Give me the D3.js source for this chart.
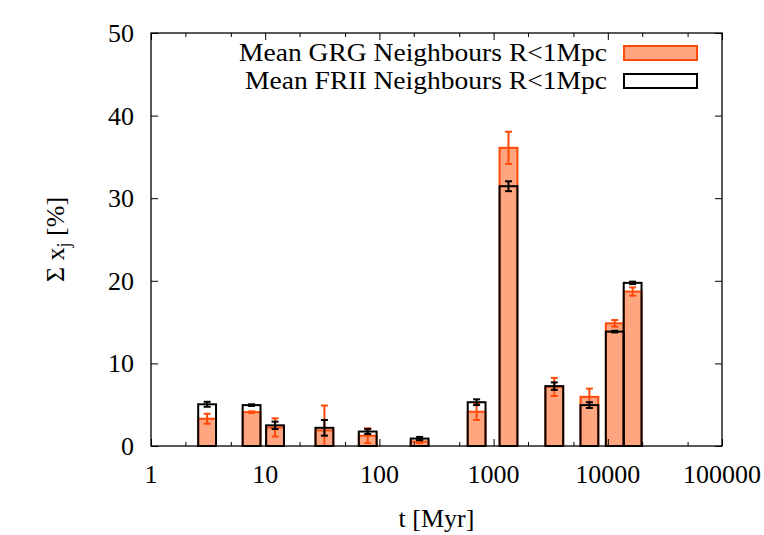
<!DOCTYPE html>
<html>
<head>
<meta charset="utf-8">
<script src="https://cdn.jsdelivr.net/npm/d3@7"></script>
</head>
<body style="margin:0">
<svg id="s" width="764" height="535"></svg>
<script>
// ages of the population bins [Myr]
const ages = [3.1, 7.6, 12.2, 33, 79, 225, 710, 1350, 3400, 6900, 11500, 16500];
// GRG neighbours: mean fraction and error [%]
const grgValues = [3.3, 4.1, 2.25, 1.9, 1.25, 0.55, 4.15, 36.1, 7.15, 5.95, 14.85, 18.7];
const grgErrors = [0.6, 0.1, 1.1, 3.0, 0.9, 0.2, 1.0, 1.95, 1.1, 1.0, 0.4, 0.5];
// FRII neighbours: mean fraction and error [%]
const friiValues = [5.05, 4.95, 2.5, 2.2, 1.75, 0.9, 5.3, 31.45, 7.25, 4.95, 13.85, 19.75];
const friiErrors = [0.3, 0.1, 0.45, 0.95, 0.3, 0.2, 0.35, 0.6, 0.45, 0.35, 0.1, 0.15];

const xMajorTicks = [1, 10, 100, 1000, 10000, 100000];
const xMinorTicks = [2, 5, 20, 50, 200, 500, 2000, 5000, 20000, 50000];
const yTicks = [0, 10, 20, 30, 40, 50];
const legendLabels = ['Mean GRG Neighbours R<1Mpc', 'Mean FRII Neighbours R<1Mpc'];

const margin = { left: 151, right: 42, top: 33, bottom: 89 };
const width = 764, height = 535;
const serif = 'Liberation Serif';
const fontSize = 26;
const svg = d3.select('#s');

const x = d3.scaleLog().domain([1, 100000]).range([margin.left, width - margin.right]);
const y = d3.scaleLinear().domain([0, 50]).range([height - margin.bottom, margin.top]);

// half box width in dex
const halfWidth = Math.pow(10, 0.078);
const grgFill = '#ffa57f';
const grgStroke = '#ff4a0a';

const data = ages.map((a, i) => ({
  age: a,
  grg: grgValues[i], grgErr: grgErrors[i],
  frii: friiValues[i], friiErr: friiErrors[i],
}));

function drawErrors(key, errKey, color) {
  const cap = 3.5;
  const e = svg.append('g').attr('stroke', color).attr('stroke-width', 2).attr('fill', 'none');
  data.forEach(d => {
    const cx = x(d.age);
    const lo = y(Math.max(0, d[key] - d[errKey]));
    const hi = y(d[key] + d[errKey]);
    e.append('line').attr('x1', cx).attr('x2', cx).attr('y1', lo).attr('y2', hi);
    e.append('line').attr('x1', cx - cap).attr('x2', cx + cap).attr('y1', lo).attr('y2', lo);
    e.append('line').attr('x1', cx - cap).attr('x2', cx + cap).attr('y1', hi).attr('y2', hi);
  });
}

function drawBoxes(key, fill, stroke) {
  svg.append('g')
    .selectAll('rect')
    .data(data)
    .enter()
    .append('rect')
    .attr('x', d => x(d.age / halfWidth))
    .attr('width', d => x(d.age * halfWidth) - x(d.age / halfWidth))
    .attr('y', d => y(d[key]))
    .attr('height', d => y(0) - y(d[key]))
    .attr('fill', fill)
    .attr('stroke', stroke)
    .attr('stroke-width', 2);
}

drawBoxes('grg', grgFill, grgStroke);
drawErrors('grg', 'grgErr', grgStroke);
drawBoxes('frii', 'none', '#000');
drawErrors('frii', 'friiErr', '#000');

// tick marks only from d3 axes, pointing inwards; labels drawn as plain text
function ticksOnly(g) {
  g.select('.domain').remove();
  g.selectAll('text').remove();
  g.selectAll('line').attr('stroke', '#000').attr('stroke-width', 1);
}
svg.append('g').attr('transform', `translate(0, ${y(0)})`)
  .call(d3.axisBottom(x).tickValues(xMajorTicks).tickSizeInner(-7).tickSizeOuter(0)).call(ticksOnly);
svg.append('g').attr('transform', `translate(0, ${y(0)})`)
  .call(d3.axisBottom(x).tickValues(xMinorTicks).tickSizeInner(-4).tickSizeOuter(0)).call(ticksOnly);
svg.append('g').attr('transform', `translate(0, ${y(50)})`)
  .call(d3.axisTop(x).tickValues(xMajorTicks).tickSizeInner(-7).tickSizeOuter(0)).call(ticksOnly);
svg.append('g').attr('transform', `translate(0, ${y(50)})`)
  .call(d3.axisTop(x).tickValues(xMinorTicks).tickSizeInner(-4).tickSizeOuter(0)).call(ticksOnly);
svg.append('g').attr('transform', `translate(${x(1)}, 0)`)
  .call(d3.axisLeft(y).tickValues(yTicks).tickSizeInner(-7).tickSizeOuter(0)).call(ticksOnly);
svg.append('g').attr('transform', `translate(${x(100000)}, 0)`)
  .call(d3.axisRight(y).tickValues(yTicks).tickSizeInner(-7).tickSizeOuter(0)).call(ticksOnly);

// frame
svg.append('rect')
  .attr('x', x(1))
  .attr('y', y(50))
  .attr('width', x(100000) - x(1))
  .attr('height', y(0) - y(50))
  .attr('fill', 'none')
  .attr('stroke', '#000')
  .attr('stroke-width', 1.3);

// tick labels
xMajorTicks.forEach(v => {
  svg.append('text')
    .attr('x', x(v)).attr('y', y(0) + 37)
    .attr('text-anchor', 'middle')
    .attr('font-family', serif).attr('font-size', fontSize)
    .text(d3.format('d')(v));
});
yTicks.forEach(v => {
  svg.append('text')
    .attr('x', x(1) - 17).attr('y', y(v) + 9)
    .attr('text-anchor', 'end')
    .attr('font-family', serif).attr('font-size', fontSize)
    .text(v);
});

// axis titles
svg.append('text')
  .attr('x', (x(1) + x(100000)) / 2)
  .attr('y', 527)
  .attr('text-anchor', 'middle')
  .attr('font-family', serif)
  .attr('font-size', fontSize)
  .text('t [Myr]');

const yTitle = svg.append('text')
  .attr('transform', `translate(64, ${(y(0) + y(50)) / 2}) rotate(-90)`)
  .attr('text-anchor', 'middle')
  .attr('font-family', serif)
  .attr('font-size', fontSize);
yTitle.append('tspan').text('Σ x');
yTitle.append('tspan').attr('font-size', 18).attr('dy', 6).text('j');
yTitle.append('tspan').attr('dy', -6).text(' [%]');

// legend
const legendWidths = [368, 362];
legendLabels.forEach((label, i) => {
  const row = 28 * i;
  svg.append('text')
    .attr('x', 607 - legendWidths[i])
    .attr('y', 61 + row)
    .attr('textLength', legendWidths[i])
    .attr('lengthAdjust', 'spacingAndGlyphs')
    .attr('font-family', serif)
    .attr('font-size', fontSize)
    .text(label);
  svg.append('rect')
    .attr('x', 624)
    .attr('y', 46 + row)
    .attr('width', 73)
    .attr('height', 14)
    .attr('fill', i === 0 ? grgFill : '#fff')
    .attr('stroke', i === 0 ? grgStroke : '#000')
    .attr('stroke-width', 2);
});
</script>
</body>
</html>
